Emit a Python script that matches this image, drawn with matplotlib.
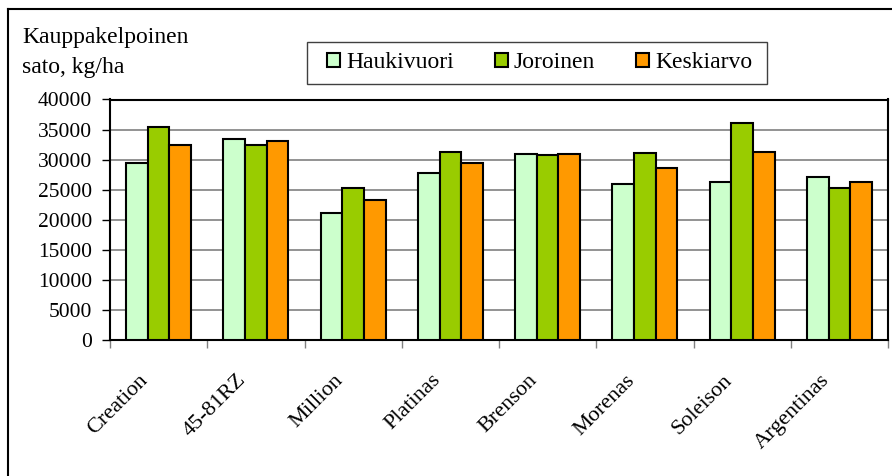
import matplotlib
matplotlib.use("Agg")
import matplotlib.pyplot as plt
import numpy as np
from matplotlib.lines import Line2D
from matplotlib.patches import Rectangle
from matplotlib.transforms import ScaledTranslation

categories = ["Creation", "45-81RZ", "Million", "Platinas", "Brenson", "Morenas", "Soleison", "Argentinas"]
haukivuori = [29500, 33400, 21100, 27700, 31000, 25900, 26300, 27100]
joroinen = [35500, 32500, 25300, 31300, 30700, 31100, 36100, 25300]
keskiarvo = [32500, 33100, 23300, 29500, 31000, 28600, 31300, 26200]
series_names = ["Haukivuori", "Joroinen", "Keskiarvo"]
colors = ["#CCFFCC", "#99CC00", "#FF9900"]
yticks = [0, 5000, 10000, 15000, 20000, 25000, 30000, 35000, 40000]

plt.rcParams['font.family'] = ['Liberation Serif', 'DejaVu Serif']

W, H = 892, 476
fig = plt.figure(figsize=(W / 100, H / 100), dpi=100)

ax = fig.add_axes([110 / W, (H - 340) / H, (888 - 110) / W, (340 - 99.5) / H])

x = np.arange(len(categories))
bw = 1 / 4.5
for i, (vals, name, c) in enumerate(zip([haukivuori, joroinen, keskiarvo], series_names, colors)):
    ax.bar(x + (i - 1) * bw, vals, width=bw, color=c, edgecolor="black", linewidth=1.5,
           label=name, zorder=3)

ax.set_xlim(-0.5, len(categories) - 0.5)
ax.set_ylim(0, 40000)
ax.set_yticks(yticks)
ax.set_yticklabels([str(v) for v in yticks], fontsize=15.5)
ax.yaxis.grid(True, color="#808080", linewidth=1.2, zorder=0)
ax.tick_params(axis="y", direction="out", length=6, width=1, pad=7)

ax.set_xticks(x)
ax.set_xticklabels(categories, rotation=45, ha="right", va="center",
                   rotation_mode="anchor", fontsize=16)
ax.tick_params(axis="x", which="major", length=0, pad=27)
ax.set_xticks(np.arange(len(categories) + 1) - 0.5, minor=True)
ax.tick_params(axis="x", which="minor", direction="out", length=6, width=1, color="#808080")
off = ScaledTranslation(-13 / 100, 0, fig.dpi_scale_trans)
for lbl in ax.get_xticklabels():
    lbl.set_transform(lbl.get_transform() + off)

for s in ax.spines.values():
    s.set_color("black")
    s.set_linewidth(1.5)

# y-axis title (two lines)
fig.text(22 / W, 1 - 43 / H, "Kauppakelpoinen", fontsize=17, ha="left", va="baseline")
fig.text(22 / W, 1 - 73 / H, "sato, kg/ha", fontsize=17, ha="left", va="baseline")

# legend frame drawn explicitly
fig.add_artist(Rectangle((307 / W, 1 - 84 / H), (767 - 307) / W, (84 - 42) / H,
                         transform=fig.transFigure, facecolor="white",
                         edgecolor="#404040", linewidth=1.0, zorder=4))
leg = fig.legend(loc="center left", bbox_to_anchor=(327 / W, 1 - 63 / H),
                 ncol=3, fontsize=17, frameon=False,
                 handlelength=0.55, handleheight=0.55, handletextpad=0.25,
                 columnspacing=1.75, borderpad=0, borderaxespad=0)
leg.set_zorder(5)

# outer border (left and top)
fig.add_artist(Line2D([7.5 / W, 7.5 / W], [0, 1 - 9.3 / H], color="black", linewidth=1.5,
                      transform=fig.transFigure))
fig.add_artist(Line2D([7.5 / W, 1.0], [1 - 9.3 / H, 1 - 9.3 / H], color="black", linewidth=1.5,
                      transform=fig.transFigure))

fig.savefig("out.png", dpi=100)
